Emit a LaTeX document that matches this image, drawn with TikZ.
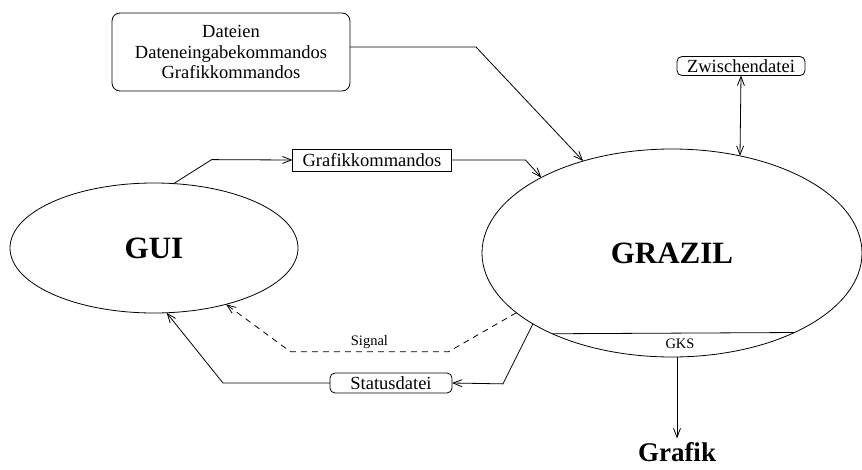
\documentclass[tikz,border=0pt]{standalone}
\usepackage{fontspec}
\setmainfont{Liberation Serif}
\usetikzlibrary{shapes.geometric,arrows.meta}

\begin{document}
\begin{tikzpicture}[x=1pt,y=-1pt,line width=0.8pt,
  >={Straight Barb[length=9pt,width=7pt]},
  every node/.style={font=\fontsize{18.5}{20.5}\selectfont,inner sep=0pt,outer sep=0pt},
  blob/.style={draw,ellipse,font=\fontsize{31}{31}\selectfont\bfseries},
  rbox/.style={draw,rounded corners=5pt},
  small/.style={font=\fontsize{14.5}{15}\selectfont}]
\useasboundingbox (0,0) rectangle (862,469);
\node[blob,minimum width=288pt,minimum height=130pt] at (154,248) (gui) {GUI};
\node[blob,minimum width=380pt,minimum height=208pt] at (672,253) (grazil) {GRAZIL};
\node[rbox,rounded corners=8pt,align=center,minimum width=238pt,minimum height=78pt] at (231,52) (cmds) {Dateien\\Dateneingabekommandos\\Grafikkommandos};
\node[draw,minimum width=159pt,minimum height=22pt] at (372,160) (gcmd) {Grafikkommandos};
\node[rbox,minimum width=128pt,minimum height=19pt] at (741,66) (zwd) {Zwischendatei};
\node[rbox,minimum width=122pt,minimum height=20pt] at (391,383) (stat) {Statusdatei};
\node[font=\fontsize{27}{27}\selectfont\bfseries] at (677,452) (grafik) {Grafik};
\node[small] at (680,344) (gks) {GKS};
% Eingaben
\draw[->] ([yshift=5pt]cmds.east) -- ++(126,0) -- (grazil.134);
\draw[->] (gui.73) -- ++(38,-24) -- (gcmd.west);
\draw[->] (gcmd.east) -- ++(74,0) -- (grazil.150);
\draw[<->] (zwd.south) -- (grazil.55);
% Rueckmeldungen
\draw[->] (grazil.207) -- ++(-30,60) -- (stat.east);
\draw[->] (stat.west) -- ++(-107,0) -- (gui.281);
\draw[->,dash pattern=on 6pt off 5pt] (grazil.201) -- ++(-68,39) -- node[small,above=3pt]{Signal} ++(-158,0) -- (gui.322);
% GKS
\draw (grazil.214) -- (grazil.327);
\draw[->] (grafik.north |- grazil.south) -- ([yshift=4pt]grafik.north);
\end{tikzpicture}
\end{document}
